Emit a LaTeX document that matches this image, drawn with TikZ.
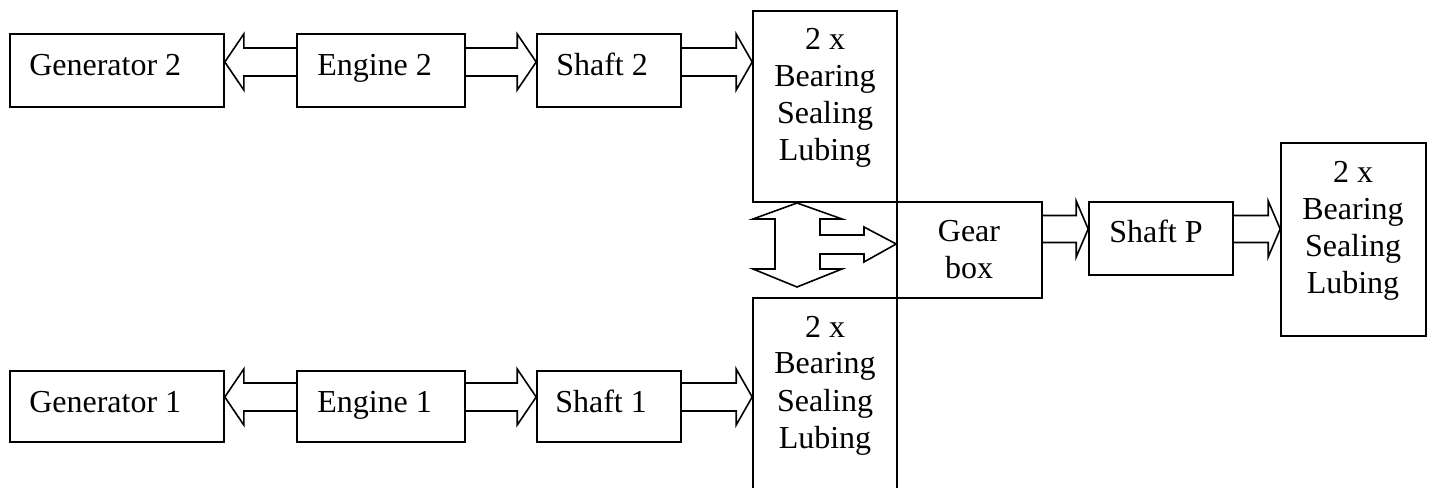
\documentclass[tikz,border=0pt]{standalone}
\usepackage{fontspec}
\setmainfont{Liberation Serif}
\usetikzlibrary{fit,calc}
\tikzset{
  box/.style={draw=black, line width=1.2pt, inner sep=0pt, rectangle},
  txt/.style={inner sep=0pt, font=\fontsize{24}{27.75}\selectfont},
  mtxt/.style={txt, align=center, anchor=base},
  blk/.style={draw=black, line width=1.2pt, line join=miter},
}
% right-pointing block arrow from #1.east to #2.west at pixel height #3
% #4 head length, #5 shaft half width, #6 head half width
\newcommand\rblk[6]{%
  \coordinate (lvl) at (0,#3);
  \draw[blk] ($(#1.east|-lvl)+(0,-#5)$) -- ($(#2.west|-lvl)+(-#4,-#5)$)
    -- ($(#2.west|-lvl)+(-#4,-#6)$) -- (#2.west|-lvl)
    -- ($(#2.west|-lvl)+(-#4,#6)$) -- ($(#2.west|-lvl)+(-#4,#5)$)
    -- ($(#1.east|-lvl)+(0,#5)$);}
% left-pointing block arrow from #1.west to #2.east
\newcommand\lblk[6]{%
  \coordinate (lvl) at (0,#3);
  \draw[blk] ($(#1.west|-lvl)+(0,-#5)$) -- ($(#2.east|-lvl)+(#4,-#5)$)
    -- ($(#2.east|-lvl)+(#4,-#6)$) -- (#2.east|-lvl)
    -- ($(#2.east|-lvl)+(#4,#6)$) -- ($(#2.east|-lvl)+(#4,#5)$)
    -- ($(#1.west|-lvl)+(0,#5)$);}
\begin{document}
\begin{tikzpicture}[x=0.75pt,y=-0.75pt]
\useasboundingbox (0,0) rectangle (1429,488);
\fill[white] (0,0) rectangle (1429,488);

% top row
\node[box, fit={(10,34)(224,107)}] (gen2) {};
\node[box, fit={(297,34)(465,107)}] (eng2) {};
\node[box, fit={(537,34)(681,107)}] (sh2) {};
\node[box, fit={(753,11)(897,202)}] (bt) {};
\node[txt, anchor=base west] (gen2t) at (29,76) {Generator 2};
\node[txt, anchor=base west] (eng2t) at (317,76) {Engine 2};
\node[txt, anchor=base west] (sh2t) at (556,76) {Shaft 2};
\node[mtxt] (btt) at (825,161) {2 x\\Bearing\\Sealing\\Lubing};

% bottom row
\node[box, fit={(10,371)(224,442)}] (gen1) {};
\node[box, fit={(297,371)(465,442)}] (eng1) {};
\node[box, fit={(537,371)(681,442)}] (sh1) {};
\node[box, fit={(753,298)(897,489)}] (bb) {};
\node[txt, anchor=base west] (gen1t) at (29,412) {Generator 1};
\node[txt, anchor=base west] (eng1t) at (317,412) {Engine 1};
\node[txt, anchor=base west] (sh1t) at (555,412) {Shaft 1};
\node[mtxt] (bbt) at (825,448) {2 x\\Bearing\\Sealing\\Lubing};

% gearbox and propeller shaft
\node[box, fit={(897,202)(1042,298)}] (gb) {};
\node[mtxt] (gbt) at (969,279) {Gear\\box};
\node[box, fit={(1089,202)(1233,275)}] (shp) {};
\node[txt, anchor=base west] (shpt) at (1109,243) {Shaft P};
\node[box, fit={(1281,143)(1426,336)}] (br) {};
\node[mtxt] (brt) at (1353,294) {2 x\\Bearing\\Sealing\\Lubing};

% block arrows
\lblk{eng2}{gen2}{62}{19}{14}{28}
\rblk{eng2}{sh2}{62}{19}{14}{28}
\rblk{sh2}{bt}{62}{16}{14}{28}
\lblk{eng1}{gen1}{397}{19}{14}{28}
\rblk{eng1}{sh1}{397}{19}{14}{28}
\rblk{sh1}{bb}{397}{16}{14}{28}
\rblk{gb}{shp}{229}{12}{13.5}{28}
\rblk{shp}{br}{229}{12}{13.5}{28}

% combined double arrow into the gearbox
\coordinate (cb) at (0,244);
\draw[blk] (797,203) -- (842,219) -- (820,219) -- (820,235) -- (864,235)
  -- (864,227) -- (gb.west|-cb) -- (864,262) -- (864,254) -- (820,254)
  -- (820,269) -- (842,269) -- (797,287) -- (753,269) -- (775,269)
  -- (775,219) -- (753,219) -- cycle;
\end{tikzpicture}
\end{document}
